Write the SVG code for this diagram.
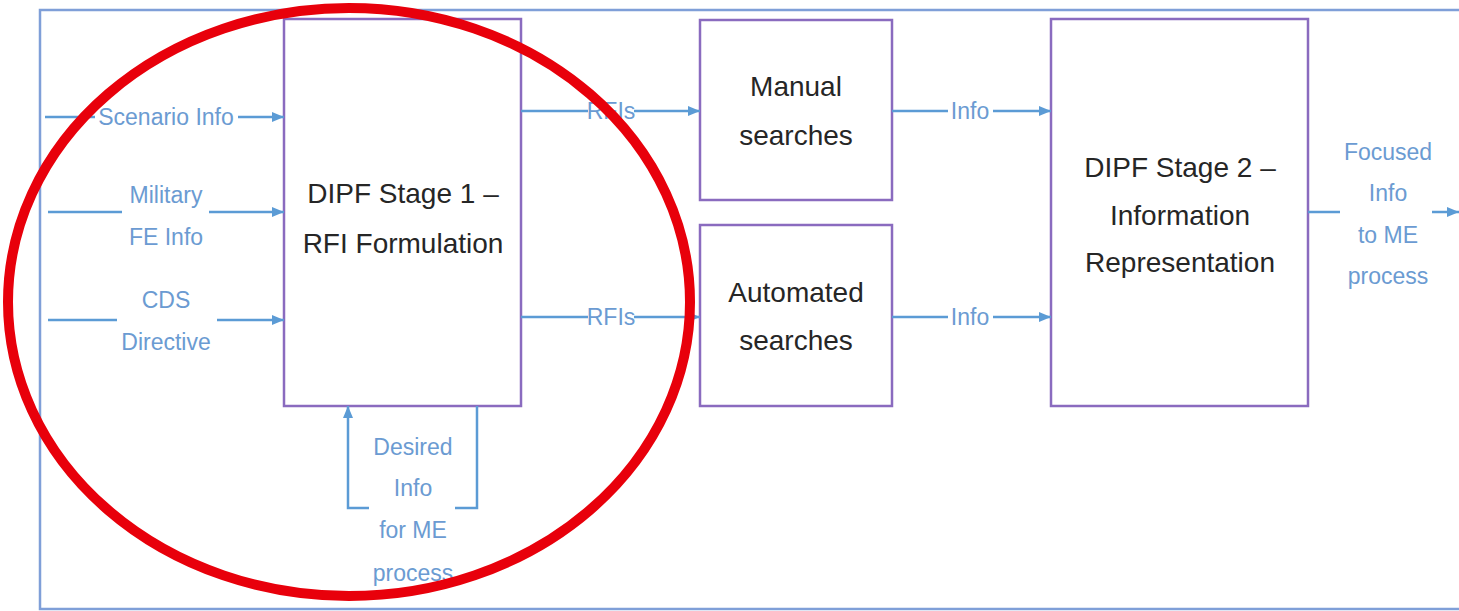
<svg xmlns="http://www.w3.org/2000/svg" width="1459" height="611" viewBox="0 0 1459 611">
<defs>
<marker id="ah" markerWidth="12" markerHeight="10" refX="12" refY="5" orient="auto" markerUnits="userSpaceOnUse">
<path d="M0,0 L12,5 L0,10 Z" fill="#5b9bd5"/>
</marker>
<style>
.box{fill:#fff;stroke:#8a6bbf;stroke-width:2.5}
.bt{font-family:"Liberation Sans",Arial,sans-serif;font-size:28px;fill:#262626;text-anchor:middle}
.lb{font-family:"Liberation Sans",Arial,sans-serif;font-size:23px;fill:#6b9bd2;text-anchor:middle}
.ln{fill:none;stroke:#5b9bd5;stroke-width:2.5}
.ar{fill:none;stroke:#5b9bd5;stroke-width:2.5;marker-end:url(#ah)}
</style>
</defs>
<rect x="0" y="0" width="1459" height="611" fill="#fff"/>
<path d="M1470,10 H40 V609 H1470" fill="none" stroke="#7f9fd8" stroke-width="2.5"/>

<g id="stage1">
<rect class="box" x="284" y="19" width="237" height="387"/>
<text class="bt" x="403" y="203">DIPF Stage 1 –</text>
<text class="bt" x="403" y="253">RFI Formulation</text>
</g>
<g id="manual">
<rect class="box" x="700" y="20" width="192" height="180"/>
<text class="bt" x="796" y="96">Manual</text>
<text class="bt" x="796" y="145">searches</text>
</g>
<g id="automated">
<rect class="box" x="700" y="225" width="192" height="181"/>
<text class="bt" x="796" y="302">Automated</text>
<text class="bt" x="796" y="350">searches</text>
</g>
<g id="stage2">
<rect class="box" x="1051" y="19" width="257" height="387"/>
<text class="bt" x="1180" y="177">DIPF Stage 2 –</text>
<text class="bt" x="1180" y="225">Information</text>
<text class="bt" x="1180" y="272">Representation</text>
</g>

<g id="connectors">
<line class="ln" x1="45" y1="117" x2="95" y2="117"/>
<line class="ar" x1="238" y1="117" x2="284" y2="117"/>
<text class="lb" x="166" y="125">Scenario Info</text>

<line class="ln" x1="48" y1="212" x2="122" y2="212"/>
<line class="ar" x1="209" y1="212" x2="284" y2="212"/>
<text class="lb" x="166" y="203">Military</text>
<text class="lb" x="166" y="245">FE Info</text>

<line class="ln" x1="48" y1="320" x2="117" y2="320"/>
<line class="ar" x1="217" y1="320" x2="284" y2="320"/>
<text class="lb" x="166" y="308">CDS</text>
<text class="lb" x="166" y="350">Directive</text>

<path class="ln" d="M477,406 V508 H455"/>
<path class="ar" d="M369,508 H348 V406"/>
<text class="lb" x="413" y="455">Desired</text>
<text class="lb" x="413" y="496">Info</text>
<text class="lb" x="413" y="538">for ME</text>
<text class="lb" x="413" y="581">process</text>

<line class="ln" x1="521" y1="111" x2="588" y2="111"/>
<line class="ar" x1="634" y1="111" x2="700" y2="111"/>
<text class="lb" x="611" y="119">RFIs</text>

<line class="ln" x1="521" y1="317" x2="588" y2="317"/>
<line class="ar" x1="634" y1="317" x2="700" y2="317"/>
<text class="lb" x="611" y="325">RFIs</text>

<line class="ln" x1="892" y1="111" x2="948" y2="111"/>
<line class="ar" x1="993" y1="111" x2="1051" y2="111"/>
<text class="lb" x="970" y="119">Info</text>

<line class="ln" x1="892" y1="317" x2="948" y2="317"/>
<line class="ar" x1="993" y1="317" x2="1051" y2="317"/>
<text class="lb" x="970" y="325">Info</text>

<line class="ln" x1="1308" y1="212" x2="1340" y2="212"/>
<line class="ar" x1="1432" y1="212" x2="1459" y2="212"/>
<text class="lb" x="1388" y="160">Focused</text>
<text class="lb" x="1388" y="201">Info</text>
<text class="lb" x="1388" y="243">to ME</text>
<text class="lb" x="1388" y="284">process</text>
</g>

<ellipse cx="349" cy="302" rx="341" ry="294" fill="none" stroke="#e8000b" stroke-width="10"/>
</svg>
